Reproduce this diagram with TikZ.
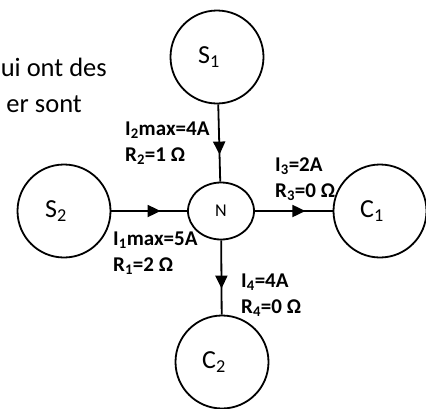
\documentclass[tikz,border=0pt]{standalone}
\usepackage{fontspec}
\setmainfont{Carlito}
\usetikzlibrary{arrows.meta, shapes.geometric, decorations.markings}

\begin{document}
\begin{tikzpicture}[x=1pt, y=-1pt,
		bus/.style={draw, circle, line width=1.8pt, minimum size=93pt, inner sep=0pt, font=\fontsize{26}{30}\selectfont, execute at end node={\hspace{16pt}}},
		junction/.style={draw, ellipse, line width=1.8pt, minimum width=66pt, minimum height=57pt, inner sep=0pt, font=\fontsize{18}{22}\selectfont},
		flow/.style={line width=1.8pt, decoration={markings, mark=at position 0.65 with {\arrow{Triangle[length=13pt, width=12pt]}}}, postaction=decorate},
		lbl/.style={anchor=base west, align=left, inner sep=0pt, font=\fontsize{21}{26}\selectfont\bfseries}]
		\useasboundingbox (0,0) rectangle (426,408);
		%text behind
			\node [anchor=base east, inner sep=0pt, font=\fontsize{26.5}{36}\selectfont] (txtA) at (107,76) {ui ont des};
			\node [anchor=base east, inner sep=0pt, font=\fontsize{26.5}{36}\selectfont] (txtB) at (82,112) {er sont};
		%nodes
			\node [junction] (N) at (221,211) {N};
			\node [bus] (S1) at (217,57) {S\textsubscript{1}};
			\node [bus] (S2) at (64,211) {S\textsubscript{2}};
			\node [bus] (C1) at (380,211) {C\textsubscript{1}};
			\node [bus] (C2) at (222,362) {C\textsubscript{2}};
		%lines
			\draw [flow] (S1) -- (N);
			\draw [flow] (S2) -- (N);
			\draw [flow] (N) -- (C1);
			\draw [flow] (N) -- (C2);
		%labels
			\node [lbl] (lblS1) at (125,161) {I\textsubscript{2}max=4A\\R\textsubscript{2}=1 Ω};
			\node [lbl] (lblS2) at (113,271) {I\textsubscript{1}max=5A\\R\textsubscript{1}=2 Ω};
			\node [lbl] (lblC1) at (275,197) {I\textsubscript{3}=2A\\R\textsubscript{3}=0 Ω};
			\node [lbl] (lblC2) at (241,313) {I\textsubscript{4}=4A\\R\textsubscript{4}=0 Ω};
\end{tikzpicture}
\end{document}
